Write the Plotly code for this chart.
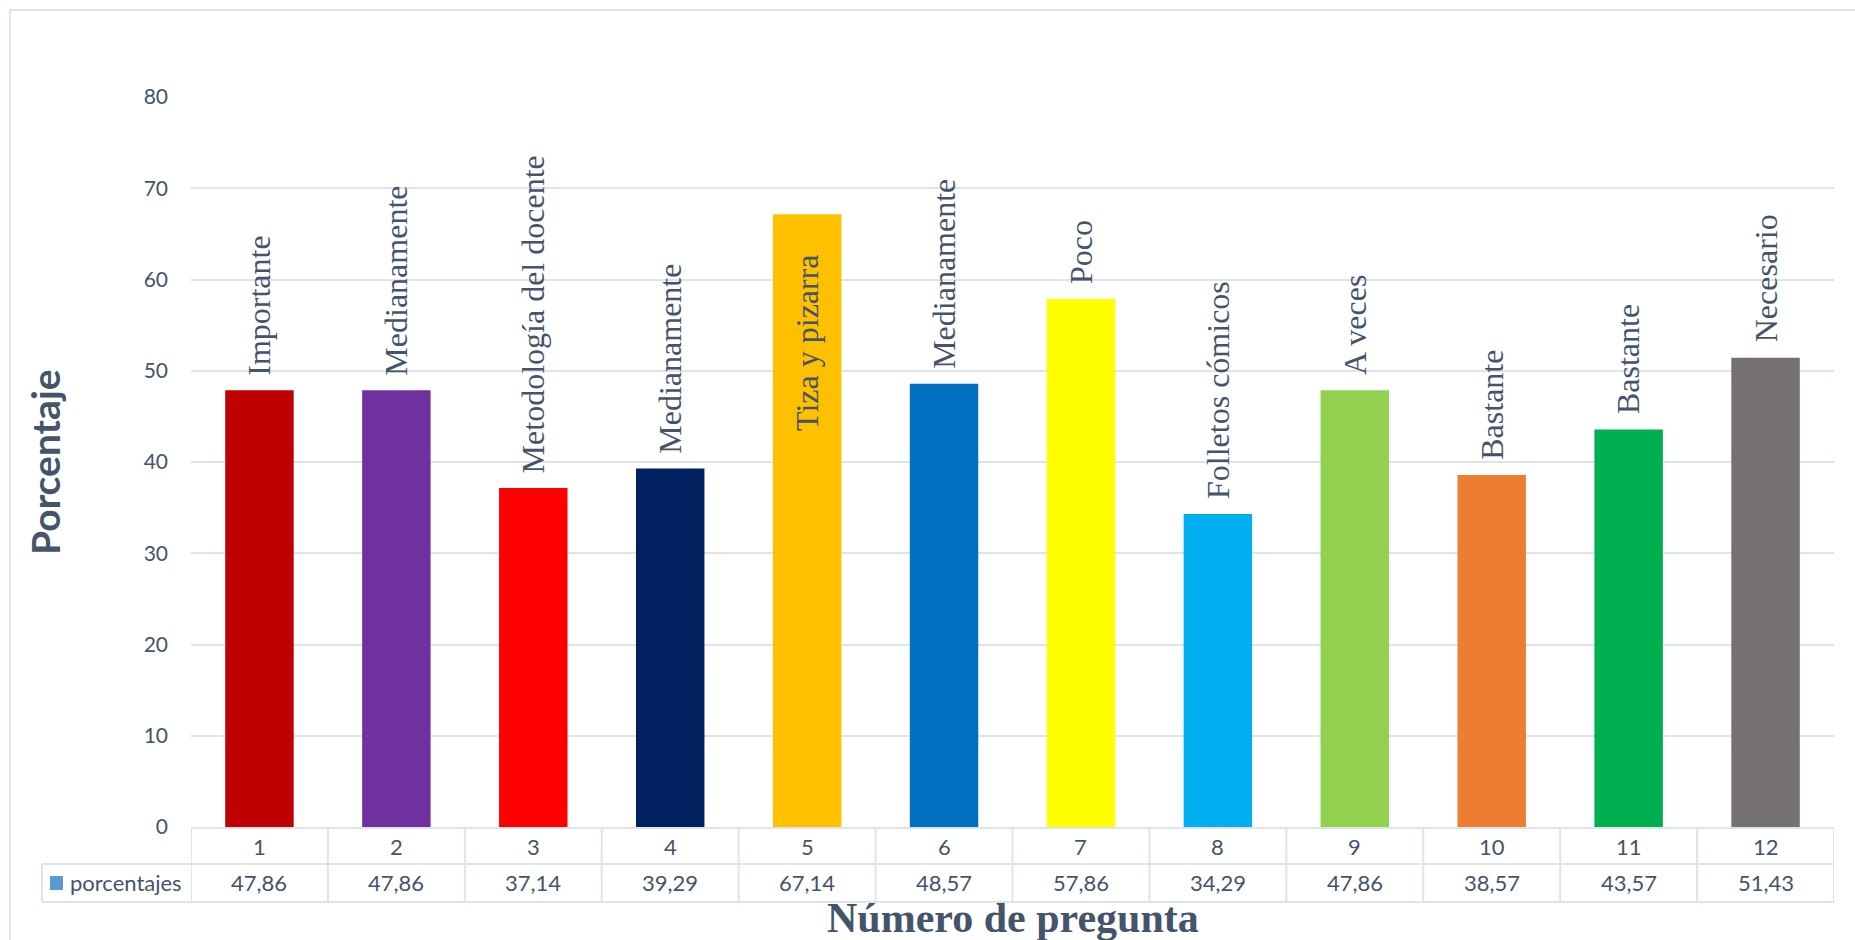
import plotly.graph_objects as go

# Data
preguntas = [1, 2, 3, 4, 5, 6, 7, 8, 9, 10, 11, 12]
porcentajes = [47.86, 47.86, 37.14, 39.29, 67.14, 48.57, 57.86, 34.29, 47.86, 38.57, 43.57, 51.43]
respuestas = ["Importante", "Medianamente", "Metodología del docente", "Medianamente",
              "Tiza y pizarra", "Medianamente", "Poco", "Folletos cómicos", "A veces",
              "Bastante", "Bastante", "Necesario"]
colores = ["#C00000", "#7030A0", "#FF0000", "#002060", "#FFC000", "#0070C0",
           "#FFFF00", "#00B0F0", "#92D050", "#ED7D31", "#00B050", "#767171"]
serie = "porcentajes"

W, H = 1855, 940
L, R, T, B = 191, 21, 97, 113
PW, PH = W - L - R, H - T - B

TXT = "#44546A"
GRID = "#DFE3EA"
SANS = "Lato, 'Open Sans', sans-serif"
SERIF = "'Liberation Serif', 'Times New Roman', serif"


def py(pix):
    """Convert a page pixel row to paper y."""
    return (H - B - pix) / PH


def px(pix):
    """Convert a page pixel column to paper x."""
    return (pix - L) / PW


fig = go.Figure()
fig.add_trace(go.Bar(
    x=preguntas, y=porcentajes, marker=dict(color=colores, line=dict(width=0)),
    width=0.5, name=serie, showlegend=False, hoverinfo="x+y",
))

annotations = []
# Response labels above each bar (inside the tallest one)
for p, v, r in zip(preguntas, porcentajes, respuestas):
    inside = v > 60
    annotations.append(dict(
        x=p, y=v, xref="x", yref="y", text=r, showarrow=False, textangle=-90,
        yanchor="top" if inside else "bottom", xanchor="center",
        yshift=-38 if inside else 13,
        font=dict(family=SERIF, size=32, color=TXT),
    ))

# Data table beneath the axis
row1_mid, row2_mid = py(846), py(883)
for p, v in zip(preguntas, porcentajes):
    annotations.append(dict(x=p, y=row1_mid, xref="x", yref="paper", text=str(p),
                            showarrow=False, yanchor="middle",
                            font=dict(family=SANS, size=22, color=TXT)))
    annotations.append(dict(x=p, y=row2_mid, xref="x", yref="paper",
                            text=f"{v:.2f}".replace(".", ","),
                            showarrow=False, yanchor="middle",
                            font=dict(family=SANS, size=22, color=TXT)))
annotations.append(dict(x=px(68), y=row2_mid, xref="paper", yref="paper", text=serie,
                        showarrow=False, xanchor="left", yanchor="middle",
                        font=dict(family=SANS, size=22, color=TXT)))

# Axis titles
annotations.append(dict(x=px(45), y=0.5, xref="paper", yref="paper", text="<b>Porcentaje</b>",
                        showarrow=False, textangle=-90, xanchor="center", yanchor="middle",
                        font=dict(family=SANS, size=39, color=TXT)))
annotations.append(dict(x=0.5, y=py(918), xref="paper", yref="paper",
                        text="<b>Número de pregunta</b>", showarrow=False,
                        xanchor="center", yanchor="middle",
                        font=dict(family=SERIF, size=42, color=TXT)))

shapes = []
line = dict(color=GRID, width=2)
# table grid lines
shapes.append(dict(type="line", xref="paper", yref="paper", x0=px(42), x1=1, y0=py(864), y1=py(864), line=line))
shapes.append(dict(type="line", xref="paper", yref="paper", x0=px(42), x1=1, y0=py(902), y1=py(902), line=line))
shapes.append(dict(type="line", xref="paper", yref="paper", x0=px(42), x1=px(42), y0=py(864), y1=py(902), line=line))
for p in preguntas + [13]:
    shapes.append(dict(type="line", xref="x", yref="paper", x0=p - 0.5, x1=p - 0.5,
                       y0=0, y1=py(902), line=line))
# legend key
shapes.append(dict(type="rect", xref="paper", yref="paper", x0=px(50), x1=px(63),
                   y0=py(890), y1=py(876), fillcolor="#5B9BD5", line=dict(width=0)))
# chart border
shapes.append(dict(type="rect", xref="paper", yref="paper", x0=px(10), x1=px(1900),
                   y0=py(1000), y1=py(10), line=line, layer="below"))

fig.update_layout(
    width=W, height=H, margin=dict(l=L, r=R, t=T, b=B),
    paper_bgcolor="white", plot_bgcolor="white",
    bargap=0.5, annotations=annotations, shapes=shapes,
    xaxis=dict(range=[0.5, 12.5], showticklabels=False, showgrid=False, zeroline=False,
               showline=True, linecolor=GRID, linewidth=2, ticks=""),
    yaxis=dict(range=[0, 80], dtick=10, showgrid=True, gridcolor=GRID, gridwidth=2,
               zeroline=False, ticks="", ticklabelstandoff=22,
               tickfont=dict(family=SANS, size=21, color=TXT)),
)

fig.write_html("out.html")
